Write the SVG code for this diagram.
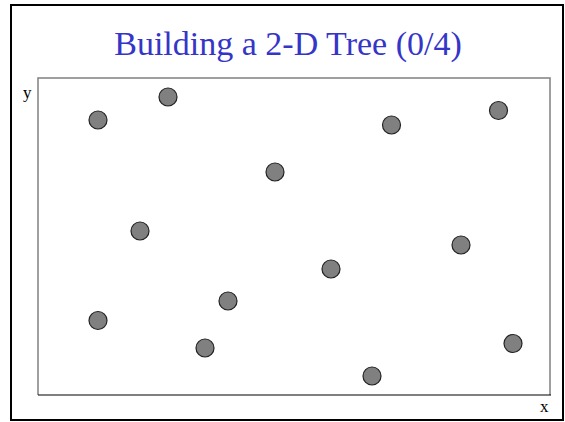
<svg xmlns="http://www.w3.org/2000/svg" width="565" height="422" viewBox="0 0 565 422">
<style>
.pt{fill:#808080;stroke:#222;stroke-width:1.2}
.lbl{font-family:"Liberation Serif",serif;font-size:17px;fill:#000}
</style>
<rect x="0" y="0" width="565" height="422" fill="#fff"/>
<rect x="11" y="5" width="552" height="415" fill="none" stroke="#000" stroke-width="2"/>
<text x="288" y="55" text-anchor="middle" font-family="Liberation Serif, serif" font-size="34" fill="#3535c8">Building a 2-D Tree (0/4)</text>
<g id="frame">
<path d="M38,395 V78 H550 V395" fill="none" stroke="#808080" stroke-width="1.5"/>
<line x1="38" y1="395" x2="551" y2="395" stroke="#000" stroke-width="1.2"/>
</g>
<text class="lbl" x="23" y="98">y</text>
<text class="lbl" x="540" y="412">x</text>
<g id="points">
<circle id="p1" class="pt" cx="98" cy="120" r="9"/>
<circle id="p2" class="pt" cx="168" cy="97" r="9"/>
<circle id="p3" class="pt" cx="391.5" cy="125" r="9"/>
<circle id="p4" class="pt" cx="498.5" cy="110.5" r="9"/>
<circle id="p5" class="pt" cx="275" cy="172" r="9"/>
<circle id="p6" class="pt" cx="140" cy="231" r="9"/>
<circle id="p7" class="pt" cx="461" cy="245" r="9"/>
<circle id="p8" class="pt" cx="331" cy="269" r="9"/>
<circle id="p9" class="pt" cx="228" cy="301" r="9"/>
<circle id="p10" class="pt" cx="98" cy="320.5" r="9"/>
<circle id="p11" class="pt" cx="205" cy="348" r="9"/>
<circle id="p12" class="pt" cx="513" cy="343.5" r="9"/>
<circle id="p13" class="pt" cx="372" cy="376" r="9"/>
</g>
</svg>
